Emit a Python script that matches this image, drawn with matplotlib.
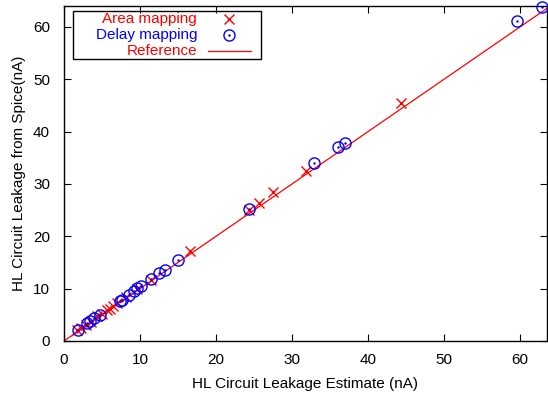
import matplotlib
matplotlib.use("Agg")
import matplotlib.pyplot as plt
from matplotlib.patches import Rectangle

plt.rcParams['font.family'] = ['Liberation Sans', 'DejaVu Sans']

# Area mapping (red crosses)
area_x = [1.7, 2.3, 2.9, 3.6, 4.4, 5.0, 5.6, 6.1, 6.5, 7.0, 8.2, 9.6, 11.5, 16.6, 24.4, 25.7, 27.5, 31.8, 44.4]
area_y = [2.1, 2.4, 3.0, 3.7, 4.8, 5.1, 5.9, 6.2, 6.6, 7.2, 8.5, 9.9, 11.7, 17.1, 25.0, 26.3, 28.5, 32.4, 45.4]

# Delay mapping (blue circles)
delay_x = [1.9, 3.0, 3.4, 3.9, 4.7, 7.4, 7.6, 8.6, 9.2, 9.6, 10.1, 11.4, 12.5, 13.3, 15.0, 24.3, 32.9, 36.0, 37.0, 59.6, 62.9]
delay_y = [2.1, 3.4, 3.9, 4.3, 5.0, 7.6, 7.8, 8.8, 9.6, 10.1, 10.5, 11.8, 12.9, 13.6, 15.5, 25.2, 34.0, 37.0, 37.9, 61.2, 63.9]

# Reference line y = x
ref_x = [0, 64]
ref_y = [0, 64]

ticks = [0, 10, 20, 30, 40, 50, 60]
labels = ["Area mapping", "Delay mapping", "Reference"]

W, H = 548, 397
fig = plt.figure(figsize=(W / 100, H / 100), dpi=100)
L, R, T, B = 64, 547, 6, 341
ax = fig.add_axes([L / W, 1 - B / H, (R - L) / W, (B - T) / H])

RED = '#ff0000'
BLUE = '#0000ff'
FS = 11

ax.plot(ref_x, ref_y, color=RED, lw=0.9, zorder=2)
ax.plot(area_x, area_y, linestyle='none', marker='x', ms=7, mew=1.0, color=RED, zorder=3, clip_on=False)
ax.plot(delay_x, delay_y, linestyle='none', marker='o', ms=8, mfc='none', mew=1.0, mec=BLUE, zorder=3, clip_on=False)
ax.plot(delay_x, delay_y, linestyle='none', marker='.', ms=1.5, color=BLUE, zorder=3, clip_on=False)

ax.set_xlim(0, (R - L) / 7.6)
ax.set_ylim(0, 64)
ax.set_xticks(ticks)
ax.set_yticks(ticks)
ax.tick_params(direction='in', length=5, width=0.8, top=True, right=True, labelsize=FS)
ax.tick_params(axis='x', pad=9)
ax.tick_params(axis='y', pad=10)
for s in ax.spines.values():
    s.set_linewidth(1.0)

ax.set_xlabel("HL Circuit Leakage Estimate (nA)", fontsize=FS, labelpad=7)
ax.set_ylabel("HL Circuit Leakage from Spice(nA)", fontsize=FS, labelpad=5)

# Legend drawn gnuplot-style (text right-aligned, sample on the right)
def fx(x):
    return x / W

def fy(y):
    return 1 - y / H

fig.patches.append(Rectangle((fx(73), fy(59)), fx(261) - fx(73), fy(11) - fy(59),
                             transform=fig.transFigure, fill=False, lw=1.0, ec='black', zorder=5))
rows = [19, 35, 51]
colors = [RED, BLUE, RED]
for lab, yy, c in zip(labels, rows, colors):
    fig.text(fx(197), fy(yy), lab, color=c, ha='right', va='center', fontsize=FS)
fig.add_artist(plt.Line2D([fx(229)], [fy(rows[0])], marker='x', ms=7, mew=1.0, color=RED, transform=fig.transFigure))
fig.add_artist(plt.Line2D([fx(229)], [fy(rows[1])], marker='o', ms=8, mfc='none', mew=1.0, mec=BLUE, transform=fig.transFigure))
fig.add_artist(plt.Line2D([fx(229)], [fy(rows[1])], marker='.', ms=1.5, color=BLUE, transform=fig.transFigure))
fig.add_artist(plt.Line2D([fx(208), fx(251)], [fy(rows[2]), fy(rows[2])], color=RED, lw=0.9, transform=fig.transFigure))

fig.savefig("out.png", dpi=100)
